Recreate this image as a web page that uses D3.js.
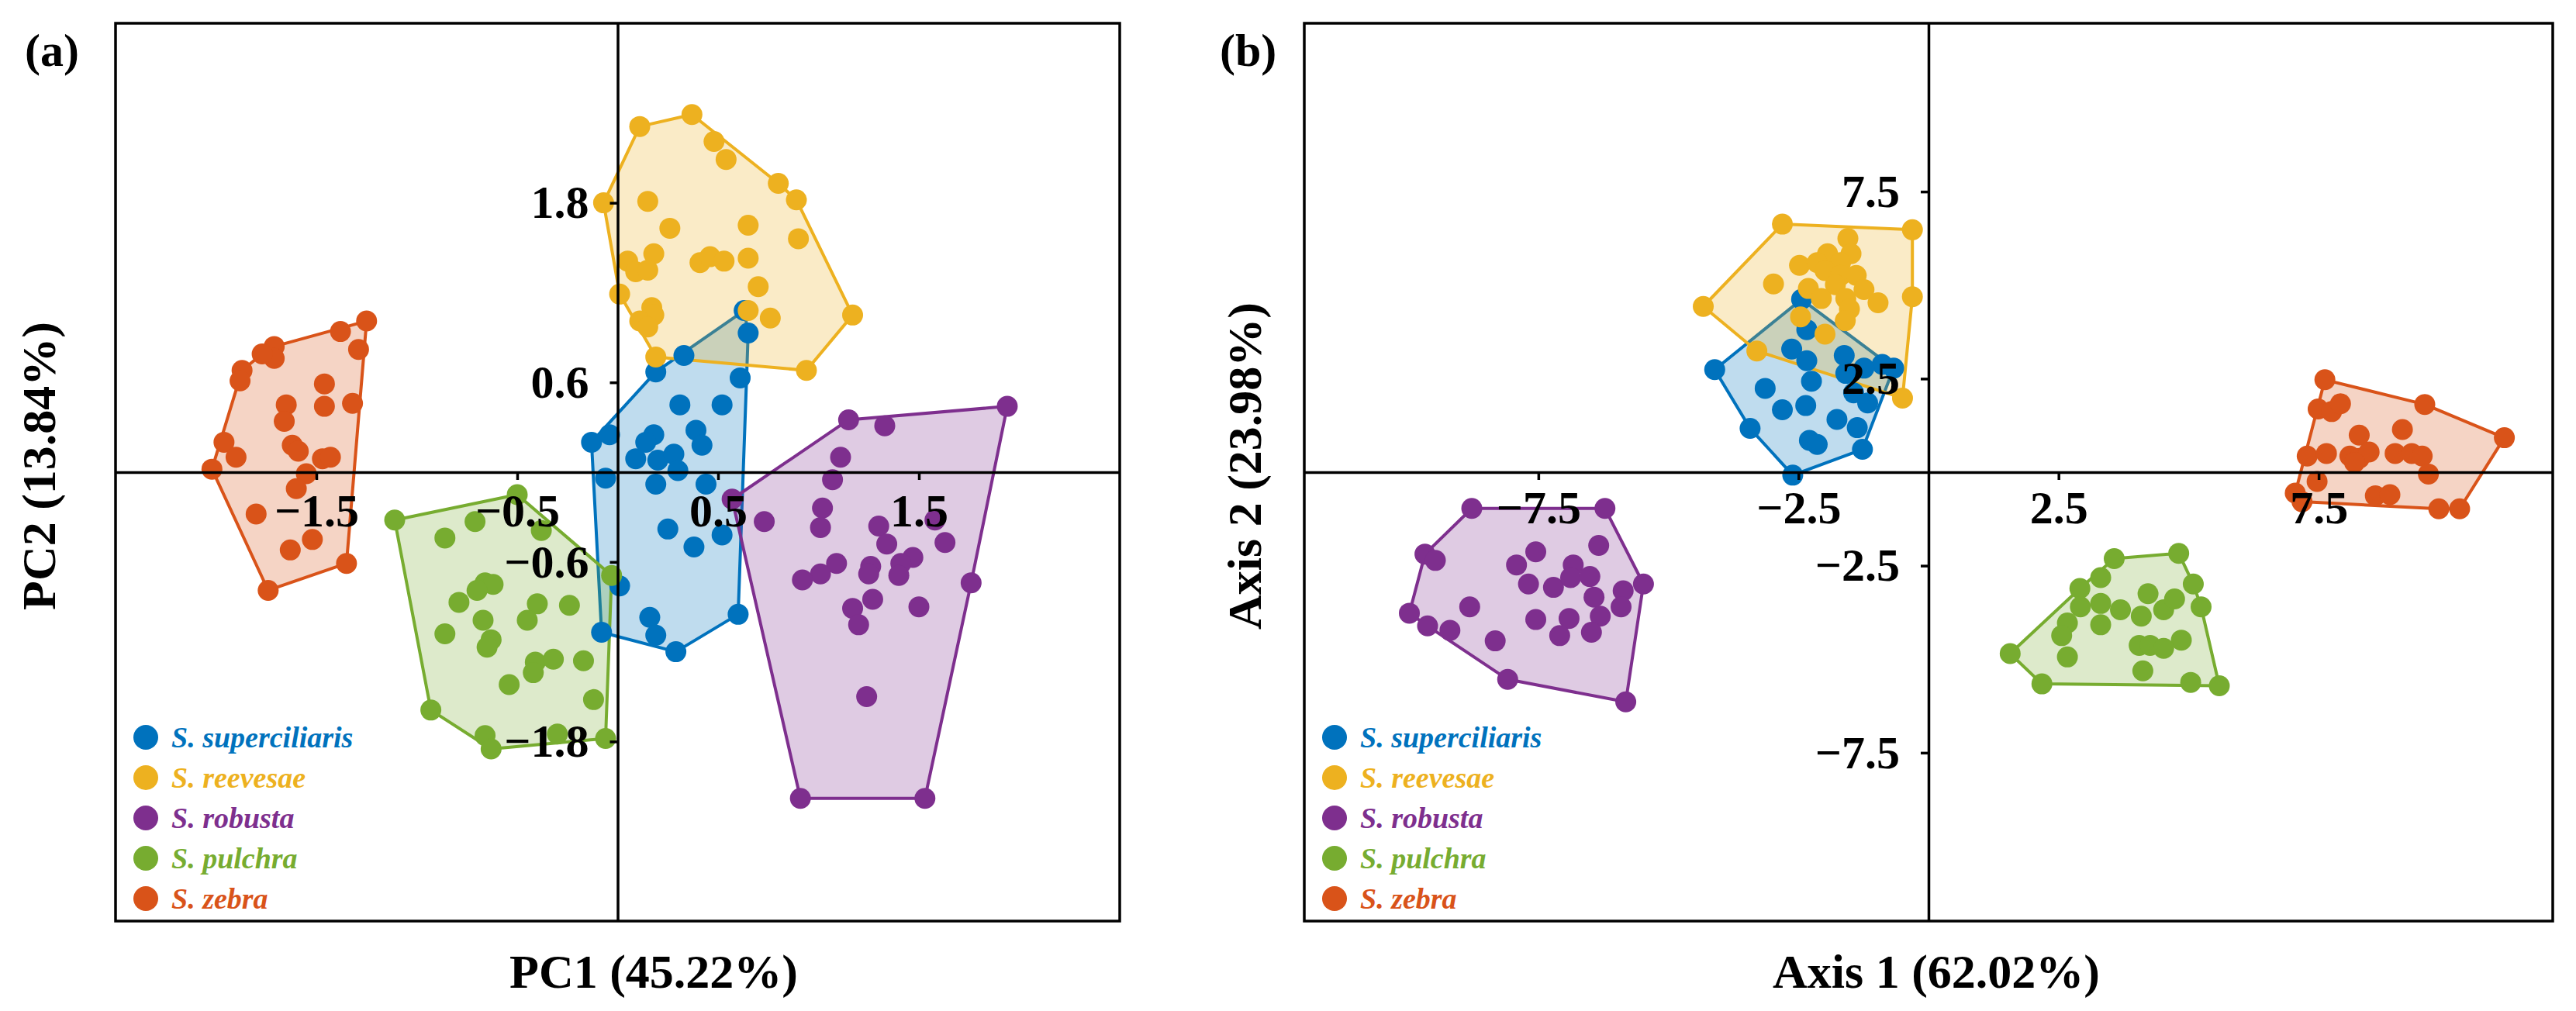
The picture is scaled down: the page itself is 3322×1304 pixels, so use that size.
<!DOCTYPE html>
<html>
<head>
<meta charset="utf-8">
<script src="https://cdn.jsdelivr.net/npm/d3@7"></script>
<style>
  body { margin: 0; background: #fff; }
  text { font-family: "Liberation Serif", "Times New Roman", serif; font-weight: bold; }
</style>
</head>
<body>
<div id="root"></div>
<script>
// species and their colours
var species = ["S. superciliaris", "S. reevesae", "S. robusta", "S. pulchra", "S. zebra"];
var colors = ["#0072BD", "#EDB120", "#7E2F8E", "#77AC30", "#D95319"];

// (a) PCA scores [PC1, PC2]
var pca_superciliaris = [[0.63,1.08],[0.65,0.93],[0.33,0.78],[0.19,0.67],[0.61,0.63],[0.31,0.45],[0.52,0.45],[-0.13,0.20],[-0.04,0.25],[0.18,0.25],[0.14,0.20],[0.39,0.28],[0.42,0.18],[0.09,0.09],[0.20,0.08],[0.28,0.12],[0.30,0.01],[-0.06,-0.04],[0.19,-0.08],[0.44,-0.08],[0.25,-0.38],[0.52,-0.42],[0.38,-0.50],[0.01,-0.76],[-0.08,-1.07],[0.16,-0.97],[0.19,-1.09],[0.29,-1.20],[0.60,-0.95]];
var pca_reevesae = [[0.37,2.39],[0.11,2.31],[0.48,2.21],[0.54,2.09],[0.80,1.93],[0.89,1.82],[-0.07,1.80],[0.15,1.81],[0.26,1.63],[0.65,1.65],[0.90,1.56],[0.18,1.46],[0.05,1.41],[0.09,1.34],[0.15,1.35],[0.41,1.40],[0.46,1.44],[0.53,1.41],[0.65,1.43],[0.70,1.24],[0.01,1.19],[0.17,1.10],[0.18,1.05],[0.11,1.01],[0.15,0.97],[0.65,1.08],[0.76,1.03],[1.17,1.05],[0.19,0.77],[0.94,0.68]];
var pca_robusta = [[1.94,0.44],[1.15,0.35],[1.33,0.31],[1.11,0.10],[1.07,-0.05],[0.57,-0.18],[0.73,-0.33],[1.02,-0.24],[1.01,-0.37],[1.30,-0.36],[1.34,-0.48],[1.58,-0.32],[1.63,-0.47],[1.09,-0.61],[1.01,-0.68],[0.92,-0.72],[1.26,-0.63],[1.25,-0.68],[1.47,-0.57],[1.41,-0.61],[1.40,-0.69],[1.76,-0.74],[1.27,-0.85],[1.17,-0.91],[1.20,-1.02],[1.50,-0.90],[1.24,-1.50],[0.91,-2.18],[1.53,-2.18]];
var pca_pulchra = [[-0.50,-0.15],[-1.11,-0.32],[-0.71,-0.33],[-0.86,-0.44],[-0.38,-0.39],[-0.03,-0.69],[-0.66,-0.74],[-0.62,-0.75],[-0.70,-0.79],[-0.79,-0.87],[-0.40,-0.88],[-0.24,-0.89],[-0.67,-0.99],[-0.45,-0.99],[-0.86,-1.08],[-0.63,-1.12],[-0.65,-1.17],[-0.41,-1.27],[-0.32,-1.25],[-0.17,-1.26],[-0.42,-1.34],[-0.54,-1.42],[-0.12,-1.52],[-0.93,-1.59],[-0.66,-1.76],[-0.63,-1.85],[-0.30,-1.75],[-0.06,-1.78]];
var pca_zebra = [[-1.25,1.01],[-1.38,0.94],[-1.29,0.82],[-1.71,0.84],[-1.71,0.76],[-1.77,0.79],[-1.87,0.68],[-1.88,0.61],[-1.46,0.59],[-1.46,0.44],[-1.65,0.45],[-1.66,0.34],[-1.32,0.46],[-1.96,0.20],[-1.90,0.10],[-2.02,0.02],[-1.62,0.18],[-1.59,0.14],[-1.47,0.09],[-1.43,0.10],[-1.55,-0.01],[-1.60,-0.11],[-1.80,-0.28],[-1.52,-0.45],[-1.63,-0.52],[-1.35,-0.61],[-1.74,-0.79]];

// (b) scores [Axis 1, Axis 2]
var ax_superciliaris = [[-2.44,4.62],[-2.34,3.81],[-2.63,3.29],[-2.34,2.98],[-1.62,3.12],[-0.89,2.88],[-0.67,2.78],[-4.11,2.74],[-2.25,2.43],[-3.14,2.24],[-2.36,1.78],[-2.81,1.67],[-1.44,2.12],[-1.17,1.85],[-1.76,1.41],[-1.37,1.19],[-3.43,1.17],[-2.29,0.85],[-2.14,0.74],[-1.27,0.61],[-2.61,-0.08],[-1.59,2.64],[-1.24,2.78]];
var ax_reevesae = [[-2.81,6.63],[-0.31,6.48],[-1.55,6.25],[-1.49,5.84],[-1.94,5.84],[-2.48,5.53],[-2.14,5.60],[-1.69,5.60],[-1.99,5.39],[-1.69,5.26],[-1.39,5.26],[-1.79,5.01],[-2.98,5.03],[-2.31,4.91],[-2.06,4.64],[-1.59,4.64],[-1.24,4.88],[-0.97,4.53],[-1.52,4.36],[-1.60,4.05],[-2.46,4.15],[-1.99,3.69],[-4.33,4.43],[-0.31,4.69],[-3.30,3.24],[-0.50,1.98]];
var ax_robusta = [[-8.78,-0.97],[-6.22,-0.97],[-9.68,-2.19],[-9.48,-2.36],[-7.55,-2.13],[-6.34,-1.96],[-7.92,-2.48],[-7.69,-2.99],[-7.21,-3.08],[-6.83,-2.48],[-6.88,-2.82],[-6.51,-2.79],[-5.48,-2.99],[-5.87,-3.17],[-6.43,-3.34],[-8.82,-3.60],[-9.98,-3.77],[-5.91,-3.60],[-6.31,-3.85],[-7.55,-3.94],[-6.91,-3.91],[-9.63,-4.11],[-9.20,-4.23],[-7.09,-4.37],[-6.48,-4.28],[-8.33,-4.51],[-8.09,-5.54],[-5.82,-6.14]];
var ax_pulchra = [[3.57,-2.31],[4.81,-2.17],[3.31,-2.82],[2.91,-3.11],[5.09,-2.99],[2.92,-3.60],[3.31,-3.51],[3.69,-3.68],[4.22,-3.25],[4.52,-3.68],[4.73,-3.39],[4.09,-3.85],[5.24,-3.60],[2.67,-4.03],[3.31,-4.08],[2.56,-4.37],[4.86,-4.49],[4.05,-4.63],[4.26,-4.63],[4.52,-4.71],[2.67,-4.94],[1.57,-4.85],[4.12,-5.31],[2.18,-5.66],[5.04,-5.62],[5.59,-5.71]];
var ax_zebra = [[7.62,2.47],[7.49,1.69],[7.75,1.62],[7.92,1.83],[9.54,1.81],[11.07,0.92],[9.11,1.14],[8.28,0.99],[7.28,0.43],[7.65,0.50],[8.10,0.43],[8.28,0.37],[8.47,0.54],[8.19,0.26],[8.97,0.50],[9.29,0.50],[9.49,0.43],[9.61,-0.05],[7.47,-0.25],[7.05,-0.56],[7.18,-0.79],[8.59,-0.63],[8.87,-0.60],[9.81,-0.98],[10.21,-0.98]];

// tick values
var pcaXTicks = [-1.5, -0.5, 0.5, 1.5];
var pcaYTicks = [1.8, 0.6, -0.6, -1.8];
var axXTicks = [-7.5, -2.5, 2.5, 7.5];
var axYTicks = [7.5, 2.5, -2.5, -7.5];

var svg = d3.select("#root")
            .append("svg")
            .attr("width", 3322)
            .attr("height", 1304);

function drawPanel(p) {
  var x = d3.scaleLinear().domain(p.xDomain).range([p.left, p.right]);
  var y = d3.scaleLinear().domain(p.yDomain).range([p.bottom, p.top]);
  var g = svg.append("g");

  // convex hulls
  p.groups.forEach(function (pts, i) {
    var hull = d3.polygonHull(pts.map(function (d) { return [x(d[0]), y(d[1])]; }));
    g.append("path")
      .attr("d", "M" + hull.join("L") + "Z")
      .attr("fill", colors[i])
      .attr("fill-opacity", 0.25)
      .attr("stroke", colors[i])
      .attr("stroke-width", 4)
      .attr("stroke-linejoin", "round");
  });

  // dots
  p.groups.forEach(function (pts, i) {
    g.append("g")
      .selectAll("circle")
      .data(pts)
      .enter()
      .append("circle")
        .attr("cx", function (d) { return x(d[0]); })
        .attr("cy", function (d) { return y(d[1]); })
        .attr("r", 13.5)
        .style("fill", colors[i]);
  });

  // axes through the origin
  var xAxis = g.append("g")
    .attr("transform", "translate(0," + y(0) + ")")
    .call(d3.axisBottom(x).tickValues(p.xTicks).tickFormat(d3.format(".1f"))
      .tickSize(10).tickSizeOuter(0).tickPadding(p.xPad));
  var yAxis = g.append("g")
    .attr("transform", "translate(" + x(0) + ",0)")
    .call(d3.axisLeft(y).tickValues(p.yTicks).tickFormat(d3.format(".1f"))
      .tickSize(10).tickSizeOuter(0).tickPadding(27));
  [xAxis, yAxis].forEach(function (a) {
    a.select(".domain").attr("stroke", "#000").attr("stroke-width", 3.5);
    a.selectAll(".tick line").attr("stroke", "#000").attr("stroke-width", 3.5);
    a.selectAll(".tick text")
      .attr("fill", "#000")
      .style("font-size", "60px")
      .style("font-family", "'Liberation Serif', 'Times New Roman', serif")
      .style("font-weight", "bold");
  });

  // frame
  g.append("rect")
    .attr("x", p.left).attr("y", p.top)
    .attr("width", p.right - p.left).attr("height", p.bottom - p.top)
    .attr("fill", "none").attr("stroke", "#000").attr("stroke-width", 3.5);

  // legend
  species.forEach(function (s, i) {
    var ly = 951 + i * 52;
    g.append("circle").attr("cx", p.left + 39).attr("cy", ly).attr("r", 16).style("fill", colors[i]);
    g.append("text").attr("x", p.left + 72).attr("y", ly + 13)
      .attr("fill", colors[i]).style("font-size", "38px").style("font-style", "italic")
      .text(s);
  });

  // panel letter and axis titles
  g.append("text").attr("x", p.letterX).attr("y", 85).style("font-size", "60px").text(p.letter);
  g.append("text").attr("x", p.xTitleX).attr("y", 1274).attr("text-anchor", "middle")
    .style("font-size", "62px").text(p.xTitle);
  g.append("text").attr("transform", "translate(" + p.yTitleX + ",601) rotate(-90)")
    .attr("text-anchor", "middle").style("font-size", "62px").text(p.yTitle);
}

drawPanel({
  left: 149, right: 1444, top: 30, bottom: 1188,
  xDomain: [-2.5, 2.5], yDomain: [-3, 3],
  xTicks: pcaXTicks, yTicks: pcaYTicks, xPad: 17,
  groups: [pca_superciliaris, pca_reevesae, pca_robusta, pca_pulchra, pca_zebra],
  letter: "(a)", letterX: 32,
  xTitle: "PC1 (45.22%)", xTitleX: 843,
  yTitle: "PC2 (13.84%)", yTitleX: 71
});

drawPanel({
  left: 1682, right: 3292, top: 30, bottom: 1188,
  xDomain: [-12, 12], yDomain: [-12, 12],
  xTicks: axXTicks, yTicks: axYTicks, xPad: 13,
  groups: [ax_superciliaris, ax_reevesae, ax_robusta, ax_pulchra, ax_zebra],
  letter: "(b)", letterX: 1573,
  xTitle: "Axis 1 (62.02%)", xTitleX: 2497,
  yTitle: "Axis 2 (23.98%)", yTitleX: 1626
});
</script>
</body>
</html>
